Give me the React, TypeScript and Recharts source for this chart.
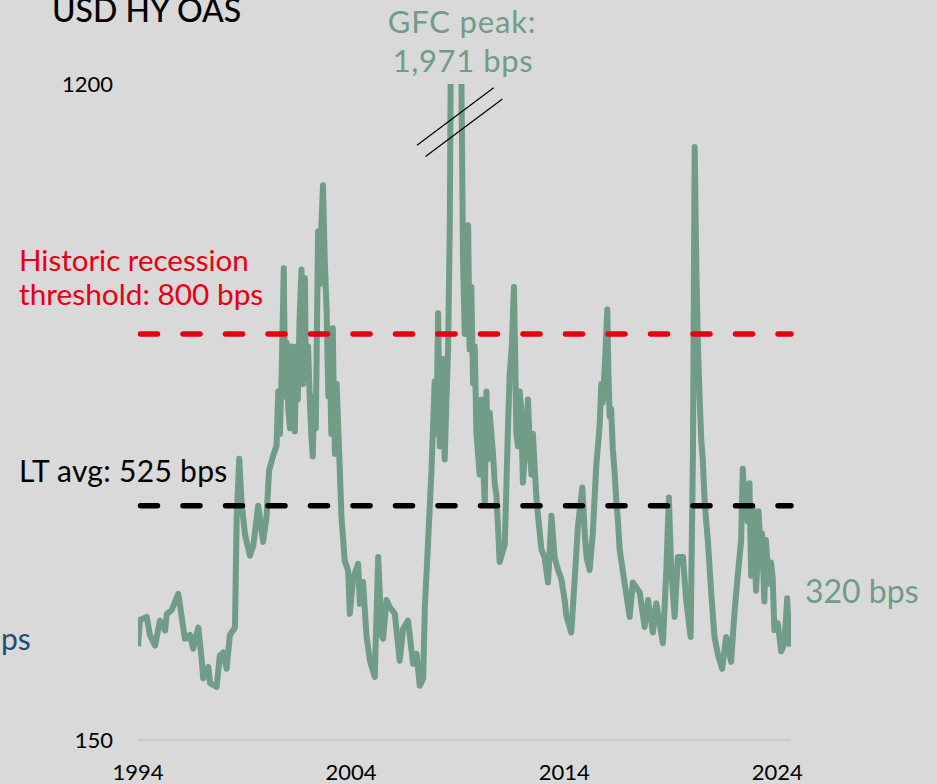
import { LineChart, Line, XAxis, YAxis, ReferenceLine } from 'recharts'

// USD high-yield option-adjusted spread, bps
const years = [
  1994.0, 1994.09, 1994.41, 1994.56, 1994.8, 1995.03, 1995.27, 1995.35, 1995.58, 1995.89,
  1996.05, 1996.2, 1996.44, 1996.59, 1996.83, 1996.99, 1997.06, 1997.3, 1997.38, 1997.69,
  1997.84, 1998.0, 1998.16, 1998.31, 1998.55, 1998.63, 1998.75, 1998.86, 1999.02, 1999.25,
  1999.41, 1999.64, 1999.87, 2000.03, 2000.15, 2000.34, 2000.5, 2000.58, 2000.74, 2000.84,
  2000.97, 2001.13, 2001.27, 2001.36, 2001.5, 2001.67, 2001.83, 2001.91, 2002.06, 2002.2,
  2002.34, 2002.45, 2002.61, 2002.68, 2002.85, 2003.0, 2003.14, 2003.24, 2003.39, 2003.55,
  2003.7, 2003.86, 2003.94, 2004.09, 2004.33, 2004.41, 2004.56, 2004.72, 2004.88, 2005.11,
  2005.27, 2005.43, 2005.5, 2005.66, 2005.81, 2006.05, 2006.28, 2006.44, 2006.67, 2006.91,
  2007.07, 2007.22, 2007.38, 2007.46, 2007.61, 2007.77, 2007.92, 2008.08, 2008.24, 2008.39,
  2008.55, 2008.63, 2008.72, 2008.91, 2009.1, 2009.25, 2009.49, 2009.56, 2009.64, 2009.72,
  2009.88, 2010.03, 2010.11, 2010.27, 2010.35, 2010.5, 2010.66, 2010.82, 2010.97, 2011.21,
  2011.29, 2011.44, 2011.64, 2011.75, 2011.91, 2012.06, 2012.3, 2012.46, 2012.61, 2012.77,
  2012.93, 2013.08, 2013.24, 2013.4, 2013.55, 2013.71, 2013.86, 2014.02, 2014.1, 2014.33,
  2014.49, 2014.64, 2014.85, 2014.96, 2015.05, 2015.19, 2015.34, 2015.5, 2015.66, 2015.81,
  2016.02, 2016.13, 2016.28, 2016.44, 2016.6, 2016.83, 2017.07, 2017.22, 2017.54, 2017.77,
  2017.93, 2018.16, 2018.32, 2018.63, 2018.79, 2018.91, 2019.02, 2019.18, 2019.33, 2019.57,
  2019.72, 2019.93, 2020.04, 2020.12, 2020.27, 2020.43, 2020.58, 2020.74, 2020.9, 2021.05,
  2021.21, 2021.41, 2021.6, 2021.83, 2021.99, 2022.14, 2022.3, 2022.38, 2022.53, 2022.69,
  2022.77, 2022.92, 2023.0, 2023.12, 2023.28, 2023.39, 2023.54, 2023.7, 2023.86, 2024.02,
  2024.18, 2024.33, 2024.46, 2024.57, 2024.64,
]

const oas = [
  300, 342, 347, 318, 301, 341, 325, 352, 358, 384,
  347, 312, 318, 296, 330, 278, 249, 267, 241, 235,
  285, 290, 264, 318, 330, 507, 600, 530, 479, 445,
  461, 525, 467, 507, 581, 605, 621, 708, 737, 905,
  786, 649, 729, 644, 695, 903, 889, 729, 695, 604,
  649, 964, 976, 1038, 838, 764, 809, 608, 655, 506,
  437, 421, 352, 408, 432, 368, 403, 317, 277, 251,
  443, 317, 312, 374, 363, 352, 277, 328, 341, 272,
  288, 237, 248, 363, 466, 581, 724, 833, 670, 599,
  775, 974, 1500, 1971, 1500, 921, 974, 775, 875, 721,
  642, 575, 695, 528, 708, 674, 608, 541, 435, 463,
  562, 735, 875, 642, 708, 562, 695, 575, 588, 509,
  455, 442, 402, 509, 442, 422, 408, 374, 349, 322,
  407, 491, 554, 481, 442, 422, 481, 588, 652, 690,
  839, 668, 615, 535, 455, 402, 347, 402, 386, 331,
  374, 322, 369, 305, 422, 538, 422, 347, 443, 443,
  374, 315, 615, 1099, 785, 629, 538, 469, 384, 315,
  287, 264, 315, 275, 355, 413, 469, 584, 527, 561,
  413, 469, 389, 516, 481, 372, 434, 434, 326, 337,
  292, 304, 377, 304, 320,
]

// extra readings of the noisy band in the volatile stretches
const extraYears = [
  2000.66, 2000.9, 2001.05, 2001.2, 2001.43, 2001.58, 2001.75, 2001.87, 2001.98, 2002.13,
  2002.27, 2002.4, 2002.53, 2002.76, 2002.93, 2003.07, 2003.19, 2003.32,
  2008.0, 2008.16, 2008.31, 2008.47,
  2009.33, 2009.41, 2009.8, 2010.07, 2010.19, 2010.42, 2010.58, 2010.74,
  2011.36, 2011.54, 2011.7, 2011.83, 2011.98, 2012.18, 2012.38, 2012.53, 2012.69,
  2015.58, 2015.74, 2015.92, 2016.07, 2016.2, 2016.36, 2016.52,
  2020.2, 2020.35, 2020.5, 2020.66,
  2022.46, 2022.61, 2022.85, 2023.06, 2023.2, 2023.46, 2023.62, 2023.78,
]
const extraOas = [
  640, 700, 680, 780, 780, 820, 720, 760, 780, 640,
  700, 820, 880, 920, 700, 640, 690, 720,
  640, 620, 760, 690,
  800, 960, 780, 650, 600, 600, 640, 560,
  650, 780, 760, 620, 680, 620, 620, 640, 540,
  620, 720, 760, 740, 680, 580, 500,
  900, 700, 600, 500,
  520, 500, 520, 430, 460, 470, 400, 410,
]

const xTicks = [1994, 2004, 2014, 2024]
const yTicks = [150, 1200]
const yDomain = [150, 1200]
const xDomain = [1994, 2024.64]

const recessionLevel = 800
const ltAvg = 525

// axis-break marks drawn across the clipped GFC spike
const breakMarkA = [
  { x: 2007.09, y: 1102 },
  { x: 2010.69, y: 1194 },
]
const breakMarkB = [
  { x: 2007.49, y: 1084 },
  { x: 2011.1, y: 1176 },
]

const rows = [
  ...years.map((t, i) => ({ t, oas: oas[i] })),
  ...extraYears.map((t, i) => ({ t, oas: extraOas[i] })),
].sort((a, b) => a.t - b.t)

const GREEN = '#709c88'
const RED = '#e60012'
const FONT = "Lato, 'Noto Sans', sans-serif"

export default function App() {
  return (
    <div
      style={{
        position: 'absolute',
        left: 0,
        top: 0,
        width: 937,
        height: 784,
        background: '#d9d9d9',
        overflow: 'hidden',
        fontFamily: FONT,
      }}
    >
      <LineChart
        width={937}
        height={784}
        data={rows}
        margin={{ top: 84, right: 146, bottom: 4, left: 78 }}
      >
        <XAxis
          dataKey="t"
          type="number"
          domain={xDomain}
          ticks={xTicks}
          allowDataOverflow
          height={40}
          tickLine={false}
          tickSize={0}
          tickMargin={24}
          axisLine={{ stroke: '#c3c3c3', strokeWidth: 1.5 }}
          tick={{ fontSize: 22, fill: '#000', fontFamily: FONT }}
        />
        <YAxis
          type="number"
          domain={yDomain}
          ticks={yTicks}
          allowDataOverflow
          width={60}
          axisLine={false}
          tickLine={false}
          tickSize={0}
          tickMargin={25}
          tick={{ fontSize: 22, fill: '#000', fontFamily: FONT }}
        />
        <Line
          type="linear"
          dataKey="oas"
          stroke={GREEN}
          strokeWidth={6}
          strokeLinejoin="round"
          dot={false}
          activeDot={false}
          isAnimationActive={false}
        />
        <ReferenceLine
          y={recessionLevel}
          stroke={RED}
          strokeWidth={5.5}
          strokeDasharray="17 25.5"
          strokeDashoffset={-2.5}
          strokeLinecap="round"
        />
        <ReferenceLine
          y={ltAvg}
          stroke="#000"
          strokeWidth={5.5}
          strokeDasharray="17 25.5"
          strokeDashoffset={-2.5}
          strokeLinecap="round"
        />
        <ReferenceLine segment={breakMarkA} stroke="#000" strokeWidth={1.2} />
        <ReferenceLine segment={breakMarkB} stroke="#000" strokeWidth={1.2} />
      </LineChart>

      <svg
        width={937}
        height={784}
        style={{ position: 'absolute', left: 0, top: 0, pointerEvents: 'none' }}
        fontFamily={FONT}
      >
        <text x={52} y={22} fontSize={32} fontWeight={500} fill="#000">
          USD HY OAS
        </text>
        <text x={462} y={33} fontSize={31} letterSpacing={0.8} fill={GREEN} textAnchor="middle">
          GFC peak:
        </text>
        <text x={463} y={72} fontSize={31} letterSpacing={0.6} fill={GREEN} textAnchor="middle">
          1,971 bps
        </text>
        <text x={19} y={271} fontSize={29.5} fill={RED}>
          Historic recession
        </text>
        <text x={19} y={305} fontSize={29.8} fill={RED}>
          threshold: 800 bps
        </text>
        <text x={19} y={482} fontSize={30} letterSpacing={0.3} fill="#000">
          LT avg: 525 bps
        </text>
        <text x={805} y={603} fontSize={32} fill={GREEN}>
          320 bps
        </text>
        <text x={1} y={650} fontSize={30} fill="#1f4e79">
          ps
        </text>
      </svg>
    </div>
  )
}
